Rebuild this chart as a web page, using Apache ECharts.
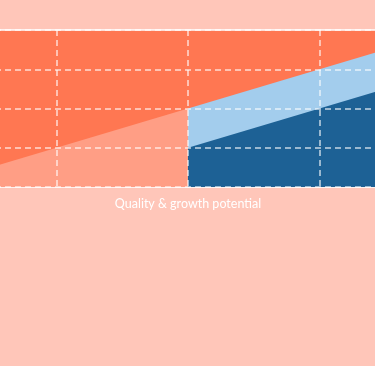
<!DOCTYPE html>
<html>
<head>
<meta charset="utf-8">
<script src="https://cdn.jsdelivr.net/npm/echarts@6/dist/echarts.min.js"></script>
<style>
html,body{margin:0;padding:0;background:#FFC6B9;overflow:hidden;width:375px;height:366px;position:relative;}
#c{position:absolute;left:-75.5px;top:0;width:526px;height:366px;}
</style>
</head>
<body>
<div id="c"></div>
<script>
var xTicks = [0, 1, 2, 3, 4];
var yTicks = [0, 1, 2, 3, 4];
var axisTitle = 'Quality & growth potential';
var lowerLeftLine = [[0, 0], [2, 2]];
var upperRightLine = [[2, 2], [4, 4]];
var baseRightLine = [[2, 1], [4, 3]];

var chart = echarts.init(document.getElementById('c'));
var dash = {color: 'rgba(255,255,255,0.75)', width: 1.5, type: [6, 4]};
chart.setOption({
  backgroundColor: '#FFC6B9',
  animation: false,
  grid: {left: 0, right: 0, top: 30, bottom: 179, show: true,
    backgroundColor: '#FF7752', borderColor: '#ffffff', borderWidth: 1.5},
  xAxis: {type: 'value', min: xTicks[0], max: xTicks[xTicks.length - 1], interval: 1, z: 5,
    name: axisTitle, nameLocation: 'middle', nameGap: 10,
    nameTextStyle: {color: '#ffffff', fontSize: 12.5, fontFamily: 'Lato', fontWeight: 'normal'},
    axisLine: {show: false}, axisTick: {show: false}, axisLabel: {show: false},
    splitLine: {show: true, lineStyle: dash}},
  yAxis: {type: 'value', min: yTicks[0], max: yTicks[yTicks.length - 1], interval: 1, z: 5,
    axisLine: {show: false}, axisTick: {show: false}, axisLabel: {show: false},
    splitLine: {show: true, lineStyle: dash}},
  series: [
    {type: 'line', data: lowerLeftLine, symbol: 'none', lineStyle: {width: 0},
      areaStyle: {color: '#FF9E85', opacity: 1}},
    {type: 'line', data: upperRightLine, symbol: 'none', lineStyle: {width: 0},
      areaStyle: {color: '#A3CDED', opacity: 1}},
    {type: 'line', data: baseRightLine, symbol: 'none', lineStyle: {width: 0},
      areaStyle: {color: '#1D6195', opacity: 1}}
  ]
});
</script>
</body>
</html>
